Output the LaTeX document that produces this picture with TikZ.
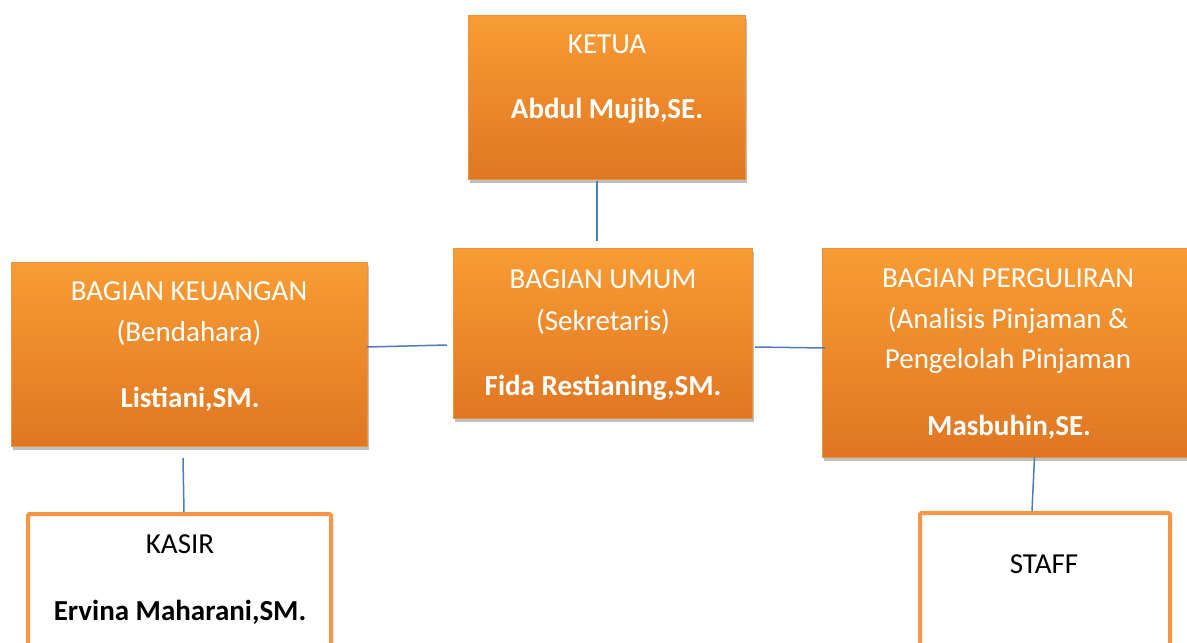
\documentclass[tikz,border=0pt]{standalone}
\usepackage{fontspec}
\setmainfont{Carlito}
\usetikzlibrary{shadows}
\definecolor{orTop}{RGB}{249,156,52}
\definecolor{orBot}{RGB}{224,118,34}
\definecolor{orEdge}{RGB}{236,146,62}
\definecolor{orLine}{RGB}{247,150,70}
\definecolor{conn}{RGB}{74,126,187}
\tikzset{
  obox/.style={rectangle, inner sep=0pt, outer sep=0pt, anchor=north west,
    top color=orTop, bottom color=orBot, draw=orEdge, line width=1pt,
    drop shadow={opacity=0.5, shadow xshift=2pt, shadow yshift=-4pt}},
  wbox/.style={rectangle, inner sep=0pt, outer sep=0pt, anchor=north west,
    fill=white, draw=orLine, line width=4pt, rounded corners=1.5pt},
  ttl/.style={anchor=base, text=white, inner sep=0pt, font=\fontsize{29}{31}\selectfont},
  nm/.style={anchor=base, text=white, inner sep=0pt, font=\fontsize{29}{31}\selectfont\bfseries},
  ttlk/.style={ttl, text=black},
  nmk/.style={nm, text=black},
  cline/.style={draw=conn, line width=1.5pt}
}
\begin{document}
\begin{tikzpicture}[x=1pt,y=-1pt]
\useasboundingbox (0,0) rectangle (1187,643);
\clip (0,0) rectangle (1187,643);
\fill[white] (0,0) rectangle (1187,643);
% boxes
\node[obox, minimum width=277pt, minimum height=164pt] (ketua) at (468,15) {};
\node[obox, minimum width=356pt, minimum height=184pt] (keu) at (11,262) {};
\node[obox, minimum width=299pt, minimum height=170pt] (umum) at (453,248) {};
\node[obox, minimum width=370pt, minimum height=209pt] (perg) at (822,248) {};
\node[wbox, minimum width=303pt, minimum height=160pt] (kasir) at (28,514) {};
\node[wbox, minimum width=250pt, minimum height=160pt] (staff) at (920,513) {};
% connectors
\draw[cline] ([xshift=-9.5pt,yshift=-2pt]ketua.south) -- ++(0,60);
\draw[cline] ([yshift=7pt]keu.east) -- ([xshift=-6pt,yshift=-12pt]umum.west);
\draw[cline] ([xshift=3pt,yshift=-14pt]umum.east) -- ([xshift=3pt,yshift=4.5pt]perg.west);
\draw[cline] ([xshift=-6pt,yshift=-12pt]keu.south) -- ([xshift=4.5pt,yshift=2pt]kasir.north);
\draw[cline] ([xshift=27.5pt]perg.south) -- ([xshift=-13pt,yshift=2pt]staff.north);
% texts
\node[ttl] (t1) at (607,53) {KETUA};
\node[nm] (t2) at (607,118) {Abdul Mujib,SE.};
\node[ttl] (t3) at (189,300) {BAGIAN KEUANGAN};
\node[ttl] (t4) at (189,341) {(Bendahara)};
\node[nm] (t5) at (190,407) {Listiani,SM.};
\node[ttl] (t6) at (603,288) {BAGIAN UMUM};
\node[ttl] (t7) at (603,330) {(Sekretaris)};
\node[nm] (t8) at (603,395) {Fida Restianing,SM.};
\node[ttl] (t9) at (1008,287) {BAGIAN PERGULIRAN};
\node[ttl] (t10) at (1008,328) {(Analisis Pinjaman \&};
\node[ttl] (t11) at (1008,368) {Pengelolah Pinjaman};
\node[nm] (t12) at (1009,435) {Masbuhin,SE.};
\node[ttlk] (t13) at (180,553) {KASIR};
\node[nmk] (t14) at (180,620) {Ervina Maharani,SM.};
\node[ttlk] (t15) at (1044,573) {STAFF};
\end{tikzpicture}
\end{document}
